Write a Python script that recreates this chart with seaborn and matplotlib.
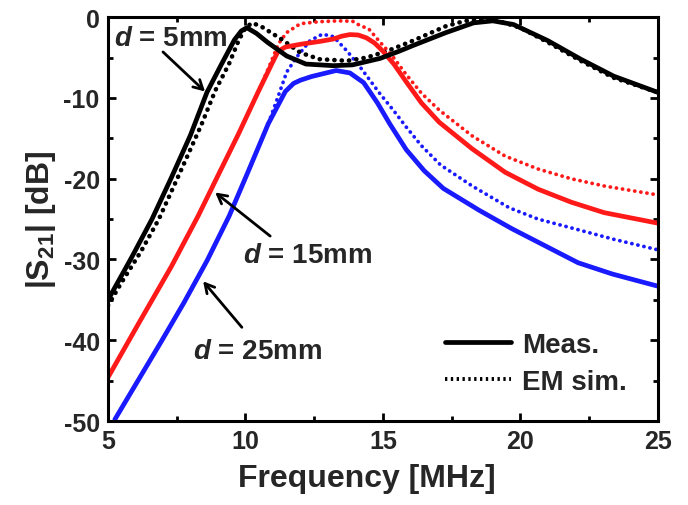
import numpy as np
import pandas as pd
import matplotlib
matplotlib.use("Agg")
import matplotlib.pyplot as plt
from matplotlib.lines import Line2D
import seaborn as sns

# ---------------- data ----------------
f_meas_5 = [5.0, 5.85, 6.6, 7.3, 8.0, 8.6, 9.1, 9.6, 9.85, 10.05, 10.4, 10.8, 11.5, 12.2,
            13.2, 13.9, 14.9, 15.6, 16.1, 17.3, 18.3, 19.0, 19.75, 21.0, 22.2, 23.4, 25.0]
s_meas_5 = [-35.0, -29.8, -25.0, -19.9, -14.6, -9.3, -6.0, -2.8, -1.7, -1.3, -2.0, -3.1, -4.8, -5.8,
            -6.0, -5.9, -5.1, -4.2, -3.5, -1.9, -0.7, -0.45, -0.9, -2.9, -5.2, -7.3, -9.3]

f_sim_5 = [5.0, 5.5, 6.2, 6.85, 7.65, 8.4, 8.9, 9.4, 9.75, 10.0, 10.25, 10.6, 11.3, 12.0,
           12.7, 13.7, 14.4, 15.15, 16.1, 17.3, 18.0, 19.0, 20.0, 21.0, 22.2, 23.4, 25.0]
s_sim_5 = [-35.7, -32.8, -29.0, -25.0, -19.0, -13.3, -9.1, -5.8, -2.9, -1.3, -0.7, -1.2, -2.7, -4.4,
           -5.2, -5.4, -5.0, -4.2, -2.9, -1.1, -0.45, -0.25, -1.3, -3.1, -5.4, -7.5, -9.3]

f_meas_15 = [5.0, 6.1, 7.3, 8.28, 8.9, 9.74, 10.47, 10.97, 11.19, 11.45, 12.0, 12.7, 13.2, 13.5,
             13.8, 14.1, 14.4, 14.7, 15.0, 15.4, 15.85, 16.4, 17.05, 18.25, 19.45, 20.65,
             21.85, 23.05, 25.0]
s_meas_15 = [-44.6, -38.0, -30.9, -24.6, -20.3, -14.5, -9.2, -5.7, -4.2, -3.7, -3.35, -3.0, -2.7, -2.35,
             -2.15, -2.2, -2.55, -3.2, -4.2, -5.8, -8.0, -10.6, -13.0, -16.3, -19.2, -21.3,
             -22.9, -24.2, -25.5]

f_sim_15 = [5.0, 6.1, 7.3, 8.28, 8.9, 9.74, 10.47, 10.9, 11.2, 11.5, 12.0, 12.7, 13.4, 13.9,
            14.1, 14.5, 14.85, 15.3, 15.85, 16.4, 17.05, 18.25, 19.45, 20.65, 21.85, 23.05, 25.0]
s_sim_15 = [-44.6, -38.0, -30.9, -24.6, -20.3, -14.5, -9.2, -5.8, -3.3, -1.9, -0.8, -0.55, -0.45, -0.5,
            -0.9, -1.5, -2.9, -4.6, -7.1, -9.4, -11.5, -14.7, -17.2, -18.8, -20.0, -20.9, -22.0]

f_meas_25 = [5.25, 6.09, 6.93, 7.77, 8.61, 9.41, 10.1, 10.83, 11.45, 11.75, 12.0, 12.4, 12.7, 13.3,
             13.8, 14.3, 14.8, 15.25, 15.85, 16.5, 17.2, 18.5, 19.7, 20.9, 22.1, 23.35, 25.0]
s_meas_25 = [-49.8, -45.0, -40.2, -35.3, -30.1, -24.6, -19.1, -13.2, -9.2, -8.2, -7.8, -7.35, -7.1, -6.6,
             -6.9, -8.1, -10.6, -13.2, -16.4, -19.0, -21.2, -23.9, -26.2, -28.3, -30.4, -31.8, -33.3]

f_sim_25 = [5.25, 6.09, 6.93, 7.77, 8.61, 9.41, 10.1, 10.83, 11.2, 11.5, 11.85, 12.35, 12.8, 13.2,
            13.7, 14.2, 14.9, 15.4, 15.85, 16.4, 17.1, 18.25, 19.6, 20.65, 22.2, 23.4, 25.0]
s_sim_25 = [-49.8, -45.0, -40.2, -35.3, -30.1, -24.6, -19.1, -13.2, -9.7, -6.8, -5.0, -2.9, -2.1, -2.4,
            -4.2, -6.3, -9.5, -11.6, -13.6, -15.9, -18.3, -20.9, -23.6, -25.0, -26.4, -27.5, -28.8]

x_ticks = [5, 10, 15, 20, 25]
y_ticks = [0, -10, -20, -30, -40, -50]
legend_labels = ["Meas.", "EM sim."]
annot_labels = ["$d$ = 5mm", "$d$ = 15mm", "$d$ = 25mm"]

# ---------------- style ----------------
sns.set_theme(style="ticks")
plt.rcParams["font.family"] = ["Liberation Sans", "DejaVu Sans"]
plt.rcParams["font.weight"] = "bold"
plt.rcParams["axes.unicode_minus"] = False
plt.rcParams["mathtext.fontset"] = "custom"
plt.rcParams["mathtext.rm"] = "Liberation Sans:bold"
plt.rcParams["mathtext.it"] = "Liberation Sans:italic:bold"
plt.rcParams["mathtext.bf"] = "Liberation Sans:bold"

def frame(f, s, d, kind):
    return pd.DataFrame({"f": f, "s21": s, "d": d, "kind": kind})

df = pd.concat([
    frame(f_meas_5, s_meas_5, "5mm", "meas"),
    frame(f_sim_5, s_sim_5, "5mm", "sim"),
    frame(f_meas_15, s_meas_15, "15mm", "meas"),
    frame(f_sim_15, s_sim_15, "15mm", "sim"),
    frame(f_meas_25, s_meas_25, "25mm", "meas"),
    frame(f_sim_25, s_sim_25, "25mm", "sim"),
], ignore_index=True)

colors = {"5mm": "#000000", "15mm": "#ff1a1a", "25mm": "#1a1aff"}

fig = plt.figure(figsize=(6.88, 5.06), dpi=100)
ax = fig.add_axes([0.157, 0.166, 0.799, 0.798])

for kind in ["sim", "meas"]:
    for d in ["25mm", "15mm", "5mm"]:
        sub = df[(df.d == d) & (df.kind == kind)]
        if kind == "meas":
            sns.lineplot(data=sub, x="f", y="s21", ax=ax, color=colors[d], lw=3.4,
                         estimator=None, sort=False, legend=False,
                         solid_joinstyle="round", solid_capstyle="round")
        else:
            lw = 3.3 if d == "5mm" else 2.7
            per = 1.55 if d == "5mm" else 1.6
            sns.lineplot(data=sub, x="f", y="s21", ax=ax, color=colors[d], lw=lw,
                         estimator=None, sort=False, legend=False,
                         linestyle=(0, (0.05, per)), dash_capstyle="round")

ax.set_xlim(5, 25)
ax.set_ylim(-50, 0)
ax.set_xticks(x_ticks)
ax.set_yticks(y_ticks)
ax.set_xticklabels([str(t) for t in x_ticks])
ax.set_yticklabels([str(t) for t in y_ticks])
ax.xaxis.set_minor_locator(matplotlib.ticker.MultipleLocator(2.5))
ax.yaxis.set_minor_locator(matplotlib.ticker.MultipleLocator(5))
ax.tick_params(which="both", direction="in", top=True, right=True, width=2.0, color="black")
ax.tick_params(which="major", length=5.5, labelsize=18, pad=6)
ax.tick_params(which="minor", length=3.5)
for lab in ax.get_xticklabels() + ax.get_yticklabels():
    lab.set_fontweight("bold")
for sp in ax.spines.values():
    sp.set_linewidth(2.2)
    sp.set_color("black")

ax.set_xlabel("Frequency [MHz]", fontsize=23, fontweight="bold", labelpad=6)
ax.set_ylabel("|S$_{21}$| [dB]", fontsize=23, fontweight="bold", labelpad=4)
ax.xaxis.set_label_coords(0.47, -0.105)

arrow = dict(arrowstyle="->,head_length=0.55,head_width=0.3", color="black", lw=2.0,
             shrinkA=0, shrinkB=0)
ax.annotate("", xy=(8.53, -9.2), xytext=(7.0, -4.3), arrowprops=arrow)
ax.text(7.3, -2.6, annot_labels[0], fontsize=20, fontweight="bold", ha="center", va="center")
ax.annotate("", xy=(8.9, -21.7), xytext=(10.9, -27.1), arrowprops=arrow)
ax.text(12.27, -29.5, annot_labels[1], fontsize=20, fontweight="bold", ha="center", va="center")
ax.annotate("", xy=(8.46, -32.7), xytext=(9.87, -38.4), arrowprops=arrow)
ax.text(10.45, -41.3, annot_labels[2], fontsize=20, fontweight="bold", ha="center", va="center")

handles = [Line2D([0], [0], color="black", lw=3.4),
           Line2D([0], [0], color="black", lw=2.8, linestyle=(0, (0.6, 0.9)))]
leg = ax.legend(handles, legend_labels, loc="lower right", frameon=False,
                prop={"size": 20, "weight": "bold"}, handlelength=2.4, handletextpad=0.4,
                labelspacing=0.4, bbox_to_anchor=(0.99, 0.003))

fig.savefig("out.png", dpi=100)
